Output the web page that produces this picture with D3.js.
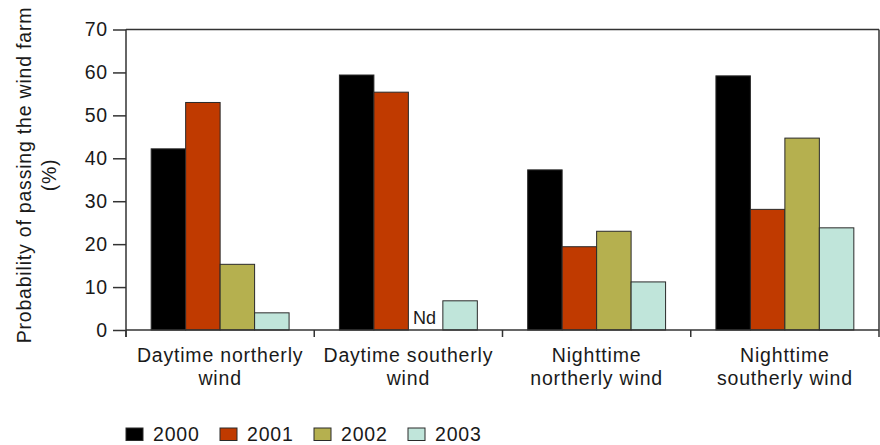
<!DOCTYPE html>
<html>
<head>
<meta charset="utf-8">
<script src="https://cdn.jsdelivr.net/npm/d3@7"></script>
<style>
  html, body { margin: 0; padding: 0; background: #fff; }
  svg { display: block; font-family: "Liberation Sans", Arial, Helvetica, sans-serif; }
  text { fill: #1a1a1a; }
</style>
</head>
<body>
<svg id="chart" width="880" height="445"></svg>
<script>
// Conditions (x-axis groups), two lines each
const categories = [
  ["Daytime northerly", "wind"],
  ["Daytime southerly", "wind"],
  ["Nighttime", "northerly wind"],
  ["Nighttime", "southerly wind"]
];
const years = ["2000", "2001", "2002", "2003"];
// Probability of passing the wind farm (%) per year; null = no data (Nd)
const values2000 = [42.2, 59.4, 37.3, 59.2];
const values2001 = [53.0, 55.4, 19.4, 28.1];
const values2002 = [15.3, null, 23.0, 44.7];
const values2003 = [4.0, 6.8, 11.2, 23.8];
const yTicks = [0, 10, 20, 30, 40, 50, 60, 70];
const colors = ["#000000", "#c03a00", "#b5b04f", "#c0e5da"];

const series = [values2000, values2001, values2002, values2003];

const svg = d3.select("#chart");
const plotLeft = 126, plotRight = 879, plotTop = 29.5, plotBottom = 330;
const axisColor = "#333";
const fontSize = "19.5px";
const spacing = "0.8px";

const x0 = d3.scaleBand().domain(d3.range(categories.length)).range([plotLeft, plotRight]).padding(0);
const x1 = d3.scaleBand().domain(years).range([0, x0.bandwidth()]).paddingInner(0).paddingOuter(0.73);
const y = d3.scaleLinear().domain([0, 70]).range([plotBottom, plotTop]);
const color = d3.scaleOrdinal().domain(years).range(colors);

// Bars
const groups = svg.append("g").selectAll("g")
  .data(categories.map((c, i) => i))
  .join("g")
  .attr("transform", i => `translate(${x0(i)},0)`);

groups.selectAll("rect")
  .data(i => years.map((yr, k) => ({ year: yr, value: series[k][i] })).filter(d => d.value != null))
  .join("rect")
  .attr("x", d => x1(d.year))
  .attr("y", d => y(d.value))
  .attr("width", x1.bandwidth())
  .attr("height", d => y(0) - y(d.value))
  .attr("fill", d => color(d.year))
  .attr("stroke", "#2a2a2a")
  .attr("stroke-width", 1);

// "Nd" marker where there is no data
groups.selectAll("text.nd")
  .data(i => years.map((yr, k) => ({ year: yr, value: series[k][i] })).filter(d => d.value == null))
  .join("text")
  .attr("class", "nd")
  .attr("x", d => x1(d.year) + x1.bandwidth() / 2 - 1)
  .attr("y", y(0) - 6.5)
  .attr("text-anchor", "middle")
  .style("font-size", "18px")
  .text("Nd");

// Frame: top and right edges
svg.append("line").attr("x1", plotLeft).attr("x2", plotRight).attr("y1", plotTop).attr("y2", plotTop)
  .attr("stroke", axisColor).attr("stroke-width", 1.5);
svg.append("line").attr("x1", plotRight).attr("x2", plotRight).attr("y1", plotTop).attr("y2", plotBottom)
  .attr("stroke", axisColor).attr("stroke-width", 1.5);

// Y axis
const yAxis = svg.append("g")
  .attr("transform", `translate(${plotLeft},0)`)
  .call(d3.axisLeft(y).tickValues(yTicks).tickSize(13).tickSizeOuter(0).tickPadding(5));
yAxis.select(".domain").remove();
yAxis.selectAll(".tick line").attr("stroke", axisColor).attr("stroke-width", 1.5);
yAxis.selectAll(".tick text").style("font-size", fontSize).style("letter-spacing", spacing)
  .attr("fill", "#1a1a1a");
yAxis.attr("font-family", null).attr("font-size", null);
svg.append("line").attr("x1", plotLeft).attr("x2", plotLeft).attr("y1", plotTop).attr("y2", plotBottom + 7)
  .attr("stroke", axisColor).attr("stroke-width", 1.5);

// X axis: baseline and group boundary ticks
svg.append("line").attr("x1", plotLeft).attr("x2", plotRight).attr("y1", plotBottom).attr("y2", plotBottom)
  .attr("stroke", axisColor).attr("stroke-width", 1.5);
const boundaries = d3.range(categories.length + 1).map(i => i < categories.length ? x0(i) : plotRight);
svg.append("g").selectAll("line")
  .data(boundaries)
  .join("line")
  .attr("x1", d => d).attr("x2", d => d)
  .attr("y1", plotBottom).attr("y2", plotBottom + 7)
  .attr("stroke", axisColor).attr("stroke-width", 1.5);

// X category labels
svg.append("g").selectAll("text")
  .data(categories)
  .join("text")
  .attr("x", (d, i) => x0(i) + x0.bandwidth() / 2)
  .attr("y", 362)
  .attr("text-anchor", "middle")
  .style("font-size", fontSize)
  .style("letter-spacing", spacing)
  .selectAll("tspan")
  .data(d => d)
  .join("tspan")
  .attr("x", function () { return this.parentNode.getAttribute("x"); })
  .attr("dy", (d, j) => j === 0 ? 0 : 23)
  .text(d => d);

// Y axis title
const yTitle = svg.append("text")
  .attr("transform", "translate(31,175) rotate(-90)")
  .attr("text-anchor", "middle")
  .style("font-size", fontSize)
  .style("letter-spacing", spacing);
yTitle.append("tspan").attr("x", 0).attr("dy", 0).text("Probability of passing the wind farm");
yTitle.append("tspan").attr("x", 0).attr("dy", 25).text("(%)");

// Legend
const legend = svg.append("g").selectAll("g")
  .data(years)
  .join("g")
  .attr("transform", (d, i) => `translate(${126 + i * 94},428)`);
legend.append("rect")
  .attr("width", 17).attr("height", 12.5)
  .attr("fill", d => color(d))
  .attr("stroke", "#2a2a2a").attr("stroke-width", 1);
legend.append("text")
  .attr("x", 27).attr("y", 12.5)
  .style("font-size", fontSize)
  .style("letter-spacing", spacing)
  .text(d => d);
</script>
</body>
</html>
